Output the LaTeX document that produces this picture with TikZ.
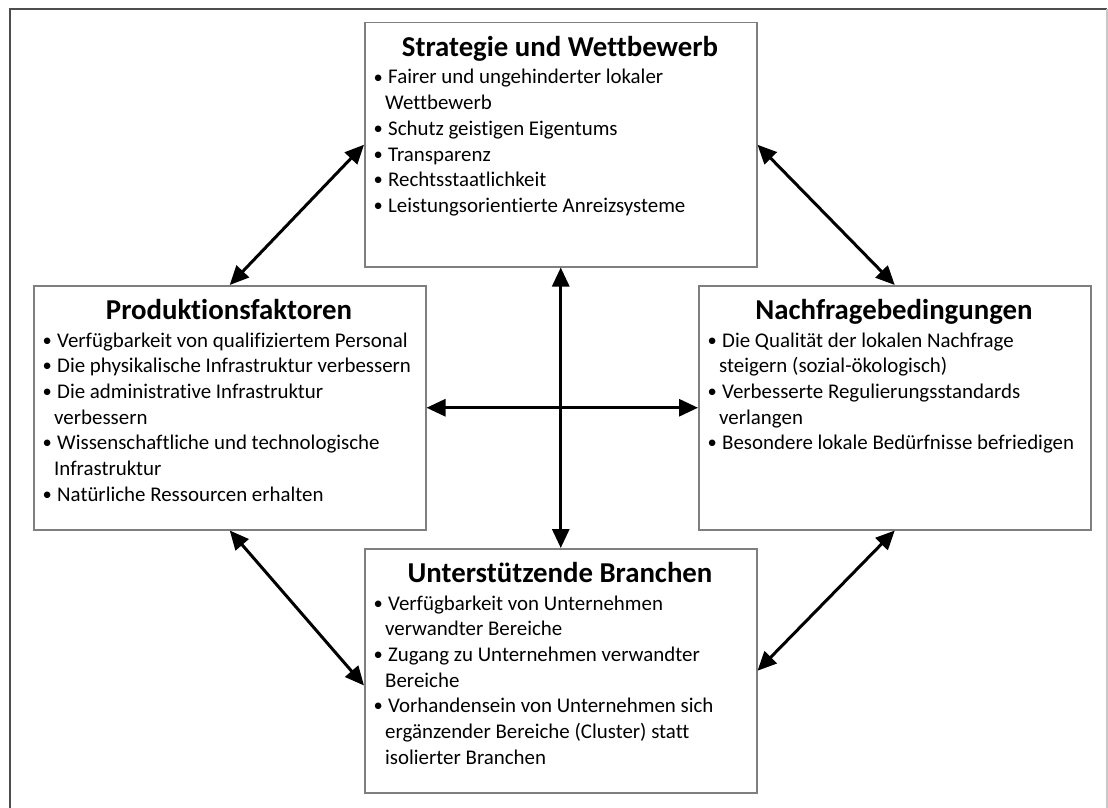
\documentclass[tikz,border=0pt]{standalone}
\usepackage{fontspec}
\setmainfont{Carlito}[Ligatures=NoCommon]
\usetikzlibrary{arrows.meta,calc}
\definecolor{boxgray}{HTML}{7F7F7F}
\definecolor{framedark}{HTML}{4D4D4D}
\definecolor{framelight}{HTML}{C8C8C8}
\newcommand\bul{\makebox[0pt][c]{\raisebox{0.9pt}{\fontsize{18.5}{18.5}\selectfont •}}\hspace*{10pt}}
\newcommand\cont{\hspace*{7pt}}
\begin{document}
\begin{tikzpicture}[x=1pt,y=-1pt,
  box/.style={draw=boxgray, line width=1.5pt, minimum width=392pt, minimum height=244pt, inner sep=0pt, anchor=north west},
  ttl/.style={anchor=base, inner sep=0pt, font=\fontsize{28.8}{34}\selectfont\bfseries},
  body/.style={anchor=base west, inner sep=0pt, font=\fontsize{20.9}{25.7}\selectfont},
  dbl/.style={line width=3pt, {Triangle[length=19pt,width=17pt]}-{Triangle[length=19pt,width=17pt]}}]
\useasboundingbox (0,0) rectangle (1108,808);
\fill[white] (0,0) rectangle (1108,808);
\draw[framedark, line width=2pt] (10,808) -- (10,9) -- (1107,9);
\draw[framelight, line width=1.5pt] (1107,9) -- (1107,808);

\node[box] (top) at (364,22) {};
\node[box] (left) at (33,285) {};
\node[box] (right) at (698,285) {};
\node[box] (bot) at (364,548) {};

\node[ttl] (topT) at (560,57) {Strategie und Wettbewerb};
\node[ttl] (leftT) at (229,319) {Produktionsfaktoren};
\node[ttl] (rightT) at (894,319) {Nachfragebedingungen};
\node[ttl] (botT) at (560,582) {Unterstützende Branchen};

\node[body] (topB) at (378,84) {\begin{tabular}[t]{@{}l@{}}
\bul Fairer und ungehinderter lokaler\\
\cont Wettbewerb\\
\bul Schutz geistigen Eigentums\\
\bul Transparenz\\
\bul Rechtsstaatlichkeit\\
\bul Leistungsorientierte Anreizsysteme
\end{tabular}};

\node[body] (leftB) at (47,347) {\begin{tabular}[t]{@{}l@{}}
\bul Verfügbarkeit von qualifiziertem Personal\\
\bul Die physikalische Infrastruktur verbessern\\
\bul Die administrative Infrastruktur\\
\cont verbessern\\
\bul Wissenschaftliche und technologische\\
\cont Infrastruktur\\
\bul Natürliche Ressourcen erhalten
\end{tabular}};

\node[body] (rightB) at (712,347) {\begin{tabular}[t]{@{}l@{}}
\bul Die Qualität der lokalen Nachfrage\\
\cont steigern (sozial-ökologisch)\\
\bul Verbesserte Regulierungsstandards\\
\cont verlangen\\
\bul Besondere lokale Bedürfnisse befriedigen
\end{tabular}};

\node[body] (botB) at (378,610) {\begin{tabular}[t]{@{}l@{}}
\bul Verfügbarkeit von Unternehmen\\
\cont verwandter Bereiche\\
\bul Zugang zu Unternehmen verwandter\\
\cont Bereiche\\
\bul Vorhandensein von Unternehmen sich\\
\cont ergänzender Bereiche (Cluster) statt\\
\cont isolierter Branchen
\end{tabular}};

\coordinate (botW) at ($(bot.north west)!0.56!(bot.south west)$);
\draw[dbl] (top.west) -- (left.north);
\draw[dbl] (top.east) -- (right.north);
\draw[dbl] (left.south) -- (botW);
\draw[dbl] (right.south) -- (bot.east);
\draw[dbl] (top.south) -- (bot.north);
\draw[dbl] (left.east) -- (right.west);
\end{tikzpicture}
\end{document}
